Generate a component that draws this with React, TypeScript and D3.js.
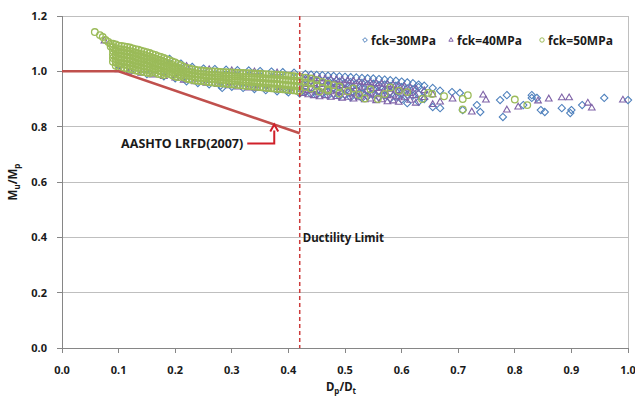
import * as d3 from 'd3';

const xTicks = [0, 0.1, 0.2, 0.3, 0.4, 0.5, 0.6, 0.7, 0.8, 0.9, 1.0];
const yTicks = [0, 0.2, 0.4, 0.6, 0.8, 1.0, 1.2];

// AASHTO LRFD (2007) limit line
const aashtoX = [0, 0.1, 0.42];
const aashtoY = [1.0, 1.0, 0.776];
const ductilityLimit = 0.42;
const arrowTarget = [0.375, 0.808];

const fck30: number[][] = [
  [0.1, 1.02], [0.12, 0.998], [0.15, 0.99], [0.18, 0.982], [0.19, 1.045], [0.2, 0.975],
  [0.21, 1.028], [0.22, 0.964], [0.23, 1.016], [0.24, 0.958], [0.25, 1.01], [0.26, 0.953],
  [0.27, 1.008], [0.28, 0.948], [0.283, 0.94], [0.29, 1.006], [0.3, 0.944], [0.31, 1.004],
  [0.32, 0.94], [0.33, 1.003], [0.34, 0.936], [0.35, 1.001], [0.36, 0.932], [0.37, 0.999],
  [0.38, 0.928], [0.39, 0.997], [0.397, 0.93], [0.4, 0.924], [0.41, 0.995], [0.42, 0.92],
  [0.43, 0.99, 0.972, 0.945, 0.925],
  [0.44, 0.988, 0.965, 0.938, 0.918],
  [0.45, 0.987, 0.968, 0.95, 0.93, 0.915],
  [0.46, 0.986, 0.962, 0.942, 0.92],
  [0.47, 0.984, 0.966, 0.948, 0.928, 0.912],
  [0.48, 0.983, 0.96, 0.94, 0.918],
  [0.49, 0.982, 0.963, 0.945, 0.925, 0.91],
  [0.5, 0.98, 0.958, 0.937, 0.915],
  [0.51, 0.979, 0.961, 0.943, 0.922, 0.906],
  [0.52, 0.978, 0.955, 0.934, 0.912],
  [0.53, 0.976, 0.958, 0.94, 0.92, 0.903],
  [0.54, 0.975, 0.952, 0.93, 0.91],
  [0.55, 0.974, 0.955, 0.936, 0.917],
  [0.56, 0.972, 0.95, 0.928, 0.906],
  [0.57, 0.97, 0.952, 0.932, 0.913],
  [0.58, 0.968, 0.946, 0.925, 0.902],
  [0.59, 0.966, 0.948, 0.928, 0.908],
  [0.6, 0.963, 0.943, 0.921, 0.898],
  [0.61, 0.96, 0.938, 0.915, 0.885],
  [0.62, 0.957, 0.935, 0.912],
  [0.63, 0.952, 0.943, 0.918, 0.89],
  [0.64, 0.948, 0.925, 0.9],
  [0.655, 0.94, 0.871], [0.668, 0.93, 0.867], [0.689, 0.925], [0.703, 0.922], [0.708, 0.86],
  [0.733, 0.878], [0.739, 0.853], [0.774, 0.896], [0.779, 0.835], [0.786, 0.914], [0.815, 0.878],
  [0.83, 0.914, 0.904], [0.839, 0.904], [0.846, 0.86], [0.853, 0.853], [0.883, 0.867],
  [0.898, 0.849], [0.9, 0.86], [0.919, 0.878], [0.958, 0.904], [1.0, 0.896],
];

const fck40: number[][] = [
  [0.075, 1.11], [0.1, 1.006], [0.12, 1.0], [0.14, 0.993], [0.16, 0.987], [0.18, 0.981],
  [0.2, 0.976], [0.215, 0.968], [0.22, 1.018], [0.235, 0.962], [0.255, 0.957], [0.26, 1.006],
  [0.275, 0.952], [0.295, 0.948], [0.3, 1.002], [0.311, 0.943], [0.33, 0.94], [0.34, 0.998],
  [0.345, 0.938], [0.365, 0.935], [0.38, 0.994], [0.385, 0.931], [0.405, 0.927],
  [0.425, 0.978, 0.955, 0.935, 0.92],
  [0.435, 0.976, 0.952, 0.93, 0.915],
  [0.445, 0.975, 0.956, 0.934, 0.912],
  [0.455, 0.974, 0.952, 0.928, 0.908],
  [0.465, 0.972, 0.954, 0.932, 0.912],
  [0.475, 0.97, 0.95, 0.926, 0.906],
  [0.485, 0.969, 0.952, 0.93, 0.909],
  [0.495, 0.968, 0.948, 0.924, 0.903],
  [0.505, 0.966, 0.95, 0.928, 0.906],
  [0.515, 0.964, 0.945, 0.921, 0.9],
  [0.525, 0.962, 0.947, 0.925, 0.904],
  [0.535, 0.96, 0.942, 0.918, 0.897],
  [0.545, 0.958, 0.944, 0.921, 0.9],
  [0.555, 0.956, 0.938, 0.915, 0.894],
  [0.565, 0.954, 0.94, 0.918, 0.897],
  [0.575, 0.952, 0.935, 0.912, 0.89],
  [0.585, 0.95, 0.936, 0.914, 0.893],
  [0.595, 0.947, 0.93, 0.908, 0.888],
  [0.605, 0.944, 0.925, 0.904],
  [0.615, 0.94, 0.92, 0.895],
  [0.625, 0.936, 0.912, 0.885],
  [0.64, 0.93, 0.905], [0.655, 0.915, 0.88], [0.668, 0.889], [0.69, 0.9], [0.724, 0.853],
  [0.744, 0.914], [0.749, 0.896], [0.786, 0.86], [0.806, 0.871], [0.841, 0.893], [0.86, 0.9],
  [0.883, 0.904], [0.896, 0.904], [0.929, 0.885], [0.936, 0.867], [0.991, 0.896],
];

const fck50: number[][] = [
  [0.058, 1.142], [0.067, 1.131], [0.072, 1.124], [0.077, 1.113], [0.082, 1.106], [0.086, 1.1, 1.09],
  [0.09, 1.1, 1.087, 1.074, 1.061, 1.048, 1.035],
  [0.095, 1.097, 1.084, 1.071, 1.058, 1.045, 1.032, 1.02],
  [0.1, 1.093, 1.08, 1.067, 1.054, 1.041, 1.028, 1.015],
  [0.105, 1.092, 1.079, 1.066, 1.053, 1.04, 1.027, 1.014],
  [0.11, 1.09, 1.077, 1.064, 1.051, 1.038, 1.025, 1.012],
  [0.115, 1.088, 1.075, 1.062, 1.049, 1.036, 1.023, 1.01],
  [0.12, 1.086, 1.073, 1.06, 1.047, 1.034, 1.021, 1.008],
  [0.125, 1.083, 1.07, 1.057, 1.044, 1.031, 1.018, 1.006],
  [0.13, 1.08, 1.067, 1.054, 1.041, 1.028, 1.015, 1.003],
  [0.135, 1.078, 1.065, 1.052, 1.039, 1.026, 1.013, 1.001],
  [0.14, 1.075, 1.062, 1.049, 1.036, 1.023, 1.01, 0.999],
  [0.145, 1.072, 1.059, 1.046, 1.033, 1.02, 1.008, 0.997],
  [0.15, 1.069, 1.056, 1.043, 1.03, 1.017, 1.005, 0.995],
  [0.155, 1.066, 1.053, 1.04, 1.027, 1.014, 1.002, 0.993],
  [0.16, 1.062, 1.049, 1.036, 1.023, 1.01, 0.998],
  [0.165, 1.059, 1.046, 1.033, 1.02, 1.007, 0.995],
  [0.17, 1.055, 1.042, 1.029, 1.016, 1.003, 0.99],
  [0.175, 1.052, 1.039, 1.026, 1.013, 1.0, 0.989],
  [0.18, 1.048, 1.035, 1.022, 1.009, 0.996, 0.987],
  [0.185, 1.044, 1.031, 1.018, 1.005, 0.993],
  [0.19, 1.04, 1.027, 1.014, 1.001, 0.99],
  [0.195, 1.036, 1.023, 1.01, 0.997, 0.986],
  [0.2, 1.032, 1.019, 1.006, 0.993, 0.981],
  [0.205, 1.027, 1.014, 1.001, 0.989, 0.979],
  [0.21, 1.022, 1.009, 0.996, 0.984],
  [0.215, 1.017, 1.004, 0.991, 0.979],
  [0.22, 1.012, 0.999, 0.986, 0.974],
  [0.225, 1.01, 0.997, 0.984, 0.971],
  [0.23, 1.008, 0.995, 0.982, 0.969],
  [0.235, 1.006, 0.993, 0.98, 0.967],
  [0.24, 1.004, 0.991, 0.978, 0.966],
  [0.245, 1.003, 0.99, 0.977, 0.965],
  [0.25, 1.002, 0.989, 0.976, 0.964],
  [0.255, 1.001, 0.988, 0.975, 0.962],
  [0.26, 1.0, 0.987, 0.974, 0.961],
  [0.265, 1.0, 0.986, 0.973, 0.96],
  [0.27, 1.0, 0.986, 0.972, 0.959],
  [0.275, 0.999, 0.985, 0.971, 0.958],
  [0.28, 0.998, 0.984, 0.97, 0.957],
  [0.285, 0.997, 0.983, 0.969, 0.956],
  [0.29, 0.997, 0.983, 0.969, 0.955],
  [0.295, 0.996, 0.982, 0.968, 0.954],
  [0.3, 0.996, 0.982, 0.967, 0.953],
  [0.305, 0.995, 0.981, 0.966, 0.952],
  [0.31, 0.995, 0.981, 0.966, 0.951],
  [0.315, 0.994, 0.98, 0.965, 0.95],
  [0.32, 0.994, 0.98, 0.964, 0.949],
  [0.325, 0.993, 0.979, 0.963, 0.948],
  [0.33, 0.993, 0.978, 0.962, 0.947],
  [0.335, 0.992, 0.977, 0.961, 0.946],
  [0.34, 0.992, 0.977, 0.961, 0.945],
  [0.345, 0.991, 0.976, 0.96, 0.944],
  [0.35, 0.991, 0.976, 0.959, 0.943],
  [0.355, 0.99, 0.975, 0.958, 0.942],
  [0.36, 0.99, 0.974, 0.957, 0.941],
  [0.365, 0.989, 0.973, 0.956, 0.94],
  [0.37, 0.989, 0.973, 0.956, 0.939],
  [0.375, 0.988, 0.972, 0.955, 0.938],
  [0.38, 0.988, 0.972, 0.954, 0.937],
  [0.385, 0.987, 0.971, 0.953, 0.936],
  [0.39, 0.986, 0.97, 0.952, 0.935],
  [0.395, 0.985, 0.969, 0.951, 0.934],
  [0.4, 0.984, 0.968, 0.95, 0.933],
  [0.405, 0.983, 0.967, 0.949, 0.932],
  [0.41, 0.982, 0.966, 0.948, 0.931],
  [0.415, 0.981, 0.965, 0.947, 0.93],
  [0.42, 0.98, 0.964, 0.946, 0.929],
  [0.43, 0.977, 0.96, 0.943],
  [0.44, 0.974, 0.956, 0.938],
  [0.45, 0.968, 0.95],
  [0.46, 0.962, 0.94],
  [0.47, 0.955, 0.935],
  [0.48, 0.95],
  [0.455, 0.927], [0.47, 0.93], [0.49, 0.945, 0.92], [0.505, 0.928], [0.515, 0.938], [0.525, 0.915],
  [0.535, 0.902], [0.545, 0.935], [0.558, 0.9], [0.57, 0.918], [0.58, 0.942], [0.595, 0.93],
  [0.61, 0.925], [0.636, 0.9], [0.647, 0.922], [0.654, 0.918], [0.675, 0.91], [0.708, 0.9, 0.862],
  [0.717, 0.914], [0.8, 0.898], [0.822, 0.878],
];

const seriesNames = ['fck=30MPa', 'fck=40MPa', 'fck=50MPa'];
const seriesColors = ['#4F81BD', '#7F63A8', '#9BBB59'];

const points = (cols: number[][]) => cols.flatMap(([px, ...ys]) => ys.map((py) => [px, py]));

const FONT = "'Noto Sans', 'DejaVu Sans', sans-serif";

export default function App() {
  const x = d3.scaleLinear().domain([0, 1]).range([62, 628]);
  const y = d3.scaleLinear().domain([0, 1.2]).range([348, 16]);

  const diamond = d3.symbol().type((d3 as any).symbolDiamond2 ?? d3.symbolDiamond).size(34)()!;
  const triangle = d3.symbol().type((d3 as any).symbolTriangle2 ?? d3.symbolTriangle).size(32)()!;
  const smallDiamond = d3.symbol().type((d3 as any).symbolDiamond2 ?? d3.symbolDiamond).size(14)()!;
  const smallTriangle = d3.symbol().type((d3 as any).symbolTriangle2 ?? d3.symbolTriangle).size(13)()!;

  const aashto = d3.line<number>().x((d) => x(aashtoX[d])).y((d) => y(aashtoY[d]))(aashtoX.map((_, i) => i))!;

  const tx = x(arrowTarget[0]);
  const ty = y(arrowTarget[1]);
  const labelY = ty + 19;

  const legendX = [365, 451, 542];

  return (
    <div>
      <style>{'body{margin:0}'}</style>
      <svg width={635} height={397} style={{ display: 'block', background: '#fff' }} fontFamily={FONT} fontWeight={700}>
        {/* gridlines */}
        {yTicks.slice(1).map((t) => (
          <line key={t} x1={x(0)} x2={x(1)} y1={y(t)} y2={y(t)} stroke="#BFBFBF" strokeWidth={1} shapeRendering="crispEdges" />
        ))}
        <line x1={x(1)} x2={x(1)} y1={y(1.2)} y2={y(0)} stroke="#BFBFBF" shapeRendering="crispEdges" />

        {/* axes */}
        <line x1={x(0)} x2={x(0)} y1={y(1.2)} y2={y(0)} stroke="#868686" shapeRendering="crispEdges" />
        <line x1={x(0)} x2={x(1)} y1={y(0)} y2={y(0)} stroke="#868686" shapeRendering="crispEdges" />
        {yTicks.map((t) => (
          <g key={t}>
            <line x1={x(0) - 5} x2={x(0)} y1={y(t)} y2={y(t)} stroke="#868686" shapeRendering="crispEdges" />
            <text x={47} y={y(t) + 4} textAnchor="end" fontSize={11} fill="#1a1a1a">{t.toFixed(1)}</text>
          </g>
        ))}
        {xTicks.map((t) => (
          <g key={t}>
            <line x1={x(t)} x2={x(t)} y1={y(0)} y2={y(0) + 5} stroke="#868686" shapeRendering="crispEdges" />
            <text x={x(t)} y={374} textAnchor="middle" fontSize={11} fill="#1a1a1a">{t.toFixed(1)}</text>
          </g>
        ))}

        {/* axis titles */}
        <text x={x(0.5) - 4} y={391} textAnchor="middle" fontSize={11.5} fill="#1a1a1a">
          D<tspan dy={3} fontSize={8}>p</tspan><tspan dy={-3}>/D</tspan><tspan dy={3} fontSize={8}>t</tspan>
        </text>
        <text transform={`translate(17,182) rotate(-90)`} textAnchor="middle" fontSize={11.5} fill="#1a1a1a">
          M<tspan dy={3} fontSize={8}>u</tspan><tspan dy={-3}>/M</tspan><tspan dy={3} fontSize={8}>p</tspan>
        </text>

        {/* scatter */}
        <g fill="none">
          {points(fck30).map(([px, py], i) => (
            <path key={`a${i}`} d={diamond} transform={`translate(${x(px)},${y(py)})`} stroke={seriesColors[0]} strokeWidth={1.1} />
          ))}
          {points(fck40).map(([px, py], i) => (
            <path key={`b${i}`} d={triangle} transform={`translate(${x(px)},${y(py)})`} stroke={seriesColors[1]} strokeWidth={1.1} />
          ))}
          {points(fck50).map(([px, py], i) => (
            <circle key={`c${i}`} cx={x(px)} cy={y(py)} r={3.3} stroke={seriesColors[2]} strokeWidth={1.3} />
          ))}
        </g>

        {/* AASHTO line */}
        <path d={aashto} fill="none" stroke="#C0504D" strokeWidth={2.5} />

        {/* ductility limit */}
        <line x1={x(ductilityLimit)} x2={x(ductilityLimit)} y1={y(1.2)} y2={y(0)} stroke="#CC3B3B" strokeWidth={1.5} strokeDasharray="4,3" />
        <text x={x(ductilityLimit) + 3} y={242} fontSize={11.5} fill="#1a1a1a">Ductility Limit</text>

        {/* annotation */}
        <text x={tx - 31} y={labelY + 4.5} textAnchor="end" fontSize={12.5} fill="#1a1a1a">AASHTO LRFD(2007)</text>
        <path d={`M${tx - 27},${labelY}H${tx}V${ty + 6}`} fill="none" stroke="#D0202A" strokeWidth={2} />
        <path d={`M${tx - 4},${ty + 7}L${tx},${ty}L${tx + 4},${ty + 7}`} fill="none" stroke="#D0202A" strokeWidth={2} />

        {/* legend */}
        {seriesNames.map((name, i) => (
          <g key={name} transform={`translate(${legendX[i]},40)`}>
            {i === 0 && <path d={smallDiamond} fill="none" stroke={seriesColors[0]} />}
            {i === 1 && <path d={smallTriangle} fill="none" stroke={seriesColors[1]} />}
            {i === 2 && <circle r={2.2} fill="none" stroke={seriesColors[2]} />}
            <text x={6} y={4.5} fontSize={12} fill="#1a1a1a">{name}</text>
          </g>
        ))}
      </svg>
    </div>
  );
}
